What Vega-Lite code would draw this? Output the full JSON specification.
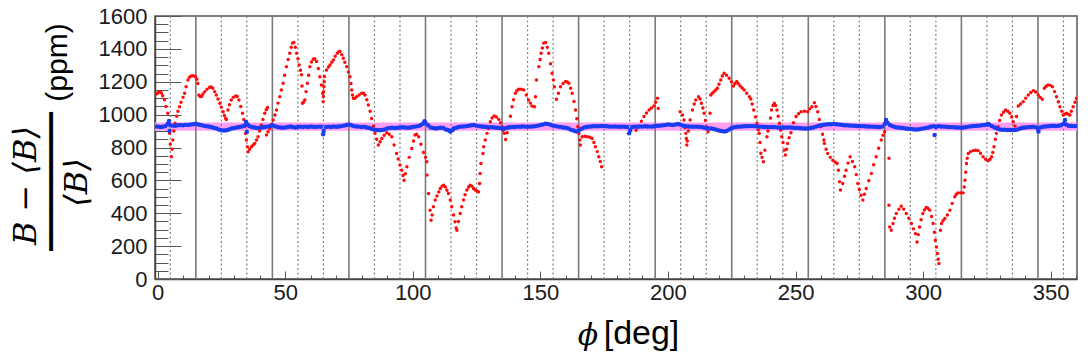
{
"$schema": "https://vega.github.io/schema/vega-lite/v6.json",
"width": 922, "height": 263,
"autosize": {"type": "none"},
"padding": {"left": 155, "top": 16, "right": 11, "bottom": 78},
"background": "white",
"config": {"view": {"stroke": "#555", "strokeWidth": 1.5}, "axis": {"grid": false}},
"datasets": {
"band": [{"lo": 902, "hi": 952}],
"solid": [{"phi":15},{"phi":45},{"phi":75},{"phi":105},{"phi":135},{"phi":165},{"phi":195},{"phi":225},{"phi":255},{"phi":285},{"phi":315},{"phi":345}],
"dotted": [{"phi":5},{"phi":25},{"phi":35},{"phi":55},{"phi":65},{"phi":85},{"phi":95},{"phi":115},{"phi":125},{"phi":145},{"phi":155},{"phi":175},{"phi":185},{"phi":205},{"phi":215},{"phi":235},{"phi":245},{"phi":265},{"phi":275},{"phi":295},{"phi":305},{"phi":325},{"phi":335},{"phi":355}],
"red": [
{"phi":-0.5,"val":1125},{"phi":0,"val":1130},{"phi":0.5,"val":1138},{"phi":1,"val":1140},{"phi":1.5,"val":1132},{"phi":2,"val":1115},{"phi":2.7,"val":1090},{"phi":3.3,"val":1050},{"phi":4,"val":1008},{"phi":4.4,"val":950},{"phi":4.7,"val":886},{"phi":5,"val":820},{"phi":5.4,"val":744},{"phi":5.7,"val":790},{"phi":6,"val":845},{"phi":6.4,"val":900},{"phi":6.9,"val":947},{"phi":7.5,"val":990},{"phi":8,"val":1020},{"phi":8.6,"val":1048},{"phi":9.2,"val":1075},{"phi":10,"val":1105},{"phi":10.6,"val":1130},{"phi":11.2,"val":1170},{"phi":11.9,"val":1211},{"phi":12.5,"val":1228},{"phi":13.2,"val":1235},{"phi":14,"val":1236},{"phi":14.9,"val":1231},{"phi":15.4,"val":1215},{"phi":15.8,"val":1190},{"phi":16.2,"val":1120},{"phi":16.7,"val":1110},{"phi":17.2,"val":1110},{"phi":17.8,"val":1125},{"phi":18.5,"val":1140},{"phi":19.4,"val":1155},{"phi":20.4,"val":1166},{"phi":21,"val":1168},{"phi":21.7,"val":1160},{"phi":22.4,"val":1140},{"phi":23,"val":1120},{"phi":23.7,"val":1095},{"phi":24.4,"val":1069},{"phi":25,"val":1045},{"phi":25.7,"val":1018},{"phi":26.2,"val":995},{"phi":26.7,"val":977},{"phi":27,"val":970},{"phi":27.6,"val":1028},{"phi":28.2,"val":1060},{"phi":28.9,"val":1089},{"phi":29.7,"val":1105},{"phi":30.6,"val":1114},{"phi":31.2,"val":1110},{"phi":31.9,"val":1089},{"phi":32.6,"val":1050},{"phi":33.3,"val":1008},{"phi":33.8,"val":970},{"phi":34.2,"val":927},{"phi":34.5,"val":885},{"phi":34.8,"val":845},{"phi":35.2,"val":805},{"phi":35.5,"val":774},{"phi":36.1,"val":790},{"phi":36.8,"val":805},{"phi":37.5,"val":815},{"phi":38.1,"val":825},{"phi":38.8,"val":845},{"phi":39.4,"val":866},{"phi":40,"val":900},{"phi":40.7,"val":937},{"phi":41.3,"val":970},{"phi":42,"val":1008},{"phi":42.6,"val":1030},{"phi":43.1,"val":1044},
{"phi":42.7,"val":876},{"phi":43.3,"val":896},{"phi":44,"val":916},{"phi":44.7,"val":940},{"phi":45.3,"val":967},{"phi":46,"val":998},{"phi":46.6,"val":1028},{"phi":47.2,"val":1070},{"phi":47.9,"val":1109},{"phi":48.5,"val":1150},{"phi":49.2,"val":1191},{"phi":49.8,"val":1240},{"phi":50.5,"val":1292},{"phi":51.2,"val":1335},{"phi":51.8,"val":1374},{"phi":52.4,"val":1410},{"phi":52.9,"val":1435},{"phi":53.4,"val":1439},{"phi":54,"val":1410},{"phi":54.5,"val":1374},{"phi":55,"val":1340},{"phi":55.5,"val":1302},{"phi":56,"val":1270},{"phi":56.4,"val":1242},{"phi":56.6,"val":1174},{"phi":56.8,"val":1069},{"phi":57.2,"val":1075},
{"phi":57.7,"val":1089},{"phi":58.2,"val":1140},{"phi":58.7,"val":1191},{"phi":59.2,"val":1240},{"phi":59.7,"val":1292},{"phi":60.3,"val":1320},{"phi":61,"val":1337},{"phi":61.6,"val":1340},{"phi":62.3,"val":1323},{"phi":63,"val":1280},{"phi":63.6,"val":1231},{"phi":64.2,"val":1180},{"phi":64.7,"val":1130},{"phi":64.9,"val":1079},{"phi":65,"val":1110},{"phi":65.1,"val":1140},{"phi":65.2,"val":1170},{"phi":65.3,"val":1200},{"phi":65.4,"val":1232},{"phi":66.2,"val":1272},{"phi":67,"val":1290},{"phi":67.6,"val":1302},{"phi":68.3,"val":1318},{"phi":68.9,"val":1333},{"phi":69.6,"val":1355},{"phi":70.4,"val":1374},{"phi":71,"val":1382},{"phi":71.5,"val":1384},{"phi":72.2,"val":1365},{"phi":72.8,"val":1343},{"phi":73.4,"val":1318},{"phi":74.1,"val":1292},{"phi":74.8,"val":1260},{"phi":75.4,"val":1231},{"phi":75.8,"val":1190},{"phi":76.1,"val":1150},{"phi":76.4,"val":1120},{"phi":76.7,"val":1099},{"phi":77.3,"val":1100},{"phi":78,"val":1109},{"phi":79,"val":1120},{"phi":80,"val":1130},{"phi":80.7,"val":1130},{"phi":81.3,"val":1120},{"phi":82,"val":1090},{"phi":82.6,"val":1059},{"phi":83.3,"val":1020},{"phi":83.9,"val":977},{"phi":84.6,"val":930},{"phi":85.2,"val":886},{"phi":85.9,"val":850},{"phi":86.5,"val":815},{"phi":87.2,"val":835},{"phi":87.9,"val":855},{"phi":88.8,"val":875},{"phi":89.8,"val":890},{"phi":90.8,"val":880},{"phi":91.8,"val":866},{"phi":92.7,"val":815},{"phi":93.7,"val":764},{"phi":94.3,"val":730},{"phi":95,"val":693},{"phi":95.7,"val":662},{"phi":96.2,"val":630},{"phi":96.6,"val":601},{"phi":97.1,"val":640},{"phi":97.7,"val":683},{"phi":98.6,"val":740},{"phi":99.6,"val":794},{"phi":100.3,"val":840},{"phi":100.9,"val":876},{"phi":101.5,"val":880},{"phi":102.3,"val":866},{"phi":103.2,"val":820},{"phi":104.2,"val":770},{"phi":105,"val":740},{"phi":105.5,"val":713},{"phi":105.6,"val":632},{"phi":106.2,"val":520},{"phi":106.8,"val":418},{"phi":107.2,"val":357},
{"phi":107.6,"val":390},{"phi":108.1,"val":440},{"phi":108.8,"val":480},{"phi":109.5,"val":505},{"phi":110.2,"val":530},{"phi":110.8,"val":551},{"phi":111.5,"val":565},{"phi":112.1,"val":571},{"phi":112.8,"val":560},{"phi":113.4,"val":540},{"phi":114,"val":520},{"phi":114.7,"val":480},{"phi":115.3,"val":439},{"phi":116,"val":390},{"phi":116.6,"val":348},{"phi":117,"val":310},{"phi":117.3,"val":297},{"phi":117.9,"val":350},{"phi":118.6,"val":398},{"phi":119.2,"val":440},{"phi":119.9,"val":480},{"phi":120.5,"val":512},{"phi":121.2,"val":541},{"phi":121.9,"val":560},{"phi":122.5,"val":571},{"phi":123.2,"val":565},{"phi":123.8,"val":550},{"phi":124.5,"val":541},{"phi":125.2,"val":535},{"phi":125.8,"val":530},{"phi":126.2,"val":581},{"phi":126.4,"val":642},{"phi":126.7,"val":703},{"phi":127.5,"val":764},{"phi":127.8,"val":805},{"phi":128.4,"val":845},{"phi":129.1,"val":886},{"phi":129.7,"val":915},{"phi":130.4,"val":957},{"phi":131.1,"val":980},{"phi":131.9,"val":992},{"phi":132.8,"val":985},{"phi":133.7,"val":971},{"phi":134.4,"val":950},{"phi":135,"val":927},{"phi":135.5,"val":905},{"phi":135.9,"val":886},{"phi":136.4,"val":849},{"phi":137,"val":890},{"phi":137.6,"val":927},{"phi":138.3,"val":990},{"phi":138.9,"val":1048},{"phi":139.5,"val":1090},{"phi":140.2,"val":1130},{"phi":140.8,"val":1145},{"phi":141.5,"val":1154},{"phi":142.5,"val":1155},{"phi":143.5,"val":1150},{"phi":144.5,"val":1120},{"phi":145.4,"val":1089},{"phi":146.1,"val":1070},{"phi":146.7,"val":1053},{"phi":147.7,"val":1048},{"phi":148.1,"val":1109},{"phi":148.5,"val":1211},{"phi":149.4,"val":1292},{"phi":149.9,"val":1335},{"phi":150.3,"val":1374},{"phi":150.8,"val":1405},{"phi":151.3,"val":1435},{"phi":152.1,"val":1439},{"phi":152.7,"val":1410},{"phi":153.3,"val":1374},{"phi":154,"val":1310},{"phi":154.6,"val":1252},{"phi":155.1,"val":1210},{"phi":155.5,"val":1170},{"phi":156.3,"val":1093},{"phi":157.1,"val":1130},{"phi":157.9,"val":1170},{"phi":158.9,"val":1190},{"phi":159.9,"val":1201},{"phi":160.6,"val":1198},{"phi":161.2,"val":1191},{"phi":161.9,"val":1160},{"phi":162.5,"val":1130},{"phi":163.2,"val":1080},{"phi":163.8,"val":1028},{"phi":164.3,"val":975},{"phi":164.7,"val":927},{"phi":165.1,"val":885},{"phi":165.5,"val":845},{"phi":165.7,"val":815},{"phi":166.4,"val":865},{"phi":167.4,"val":868},{"phi":168.4,"val":866},{"phi":169.4,"val":862},{"phi":170.3,"val":855},{"phi":171,"val":830},{"phi":171.6,"val":805},{"phi":172.3,"val":775},{"phi":172.9,"val":744},{"phi":173.5,"val":715},{"phi":174,"val":683},
{"phi":187.5,"val":905},{"phi":188.7,"val":927},{"phi":189.6,"val":960},{"phi":190.6,"val":988},{"phi":191.6,"val":1010},{"phi":192.6,"val":1028},{"phi":193.5,"val":1040},{"phi":194.5,"val":1053},{"phi":195.2,"val":1075},{"phi":195.9,"val":1099},{"phi":196.2,"val":1038},
{"phi":204.8,"val":1018},{"phi":205.7,"val":998},{"phi":206.3,"val":967},{"phi":206.7,"val":920},{"phi":207,"val":886},{"phi":207.2,"val":855},{"phi":207.4,"val":815},{"phi":207.6,"val":840},{"phi":208,"val":900},{"phi":208.7,"val":967},{"phi":209.6,"val":1028},{"phi":210.3,"val":1065},{"phi":210.9,"val":1089},{"phi":212,"val":1109},{"phi":212.6,"val":1095},{"phi":213.1,"val":1069},{"phi":213.7,"val":1040},{"phi":214.2,"val":1008},{"phi":214.7,"val":965},{"phi":215.2,"val":927},{"phi":215.7,"val":896},{"phi":216.5,"val":1008},{"phi":216.8,"val":1120},{"phi":217.4,"val":1130},{"phi":218.1,"val":1140},{"phi":218.7,"val":1150},{"phi":219.4,"val":1160},{"phi":220,"val":1185},{"phi":220.7,"val":1211},{"phi":221.3,"val":1235},{"phi":222,"val":1252},{"phi":223,"val":1240},{"phi":224,"val":1221},{"phi":224.9,"val":1200},{"phi":225.7,"val":1174},{"phi":226.3,"val":1190},{"phi":227,"val":1201},{"phi":227.6,"val":1188},{"phi":228.3,"val":1174},{"phi":229.1,"val":1162},{"phi":229.9,"val":1150},{"phi":230.9,"val":1130},{"phi":231.9,"val":1109},{"phi":232.5,"val":1095},{"phi":233,"val":1065},{"phi":233.6,"val":1028},{"phi":234.3,"val":985},{"phi":234.9,"val":947},{"phi":235.4,"val":906},{"phi":235.8,"val":886},{"phi":236.1,"val":830},{"phi":236.4,"val":765},{"phi":236.9,"val":740},{"phi":237.4,"val":713},{"phi":238,"val":784},{"phi":238.8,"val":866},{"phi":239.2,"val":900},{"phi":239.7,"val":927},{"phi":240.2,"val":980},{"phi":240.6,"val":1028},{"phi":241.2,"val":1055},{"phi":241.7,"val":1069},{"phi":242.2,"val":1055},{"phi":242.7,"val":1028},{"phi":243.2,"val":990},{"phi":243.7,"val":947},{"phi":244.2,"val":905},{"phi":244.6,"val":866},{"phi":245.1,"val":830},{"phi":245.6,"val":784},{"phi":246,"val":754},{"phi":246.5,"val":790},{"phi":246.9,"val":825},{"phi":247.5,"val":860},{"phi":248.2,"val":890},{"phi":249.2,"val":950},{"phi":250.2,"val":988},{"phi":251.2,"val":1005},{"phi":252.2,"val":1018},{"phi":253.5,"val":1020},{"phi":254.8,"val":1018},{"phi":255.6,"val":1035},{"phi":256.4,"val":1048},{"phi":257.4,"val":1073},{"phi":258,"val":1050},{"phi":258.7,"val":1018},{"phi":259.3,"val":970},{"phi":260,"val":927},{"phi":260.6,"val":880},{"phi":261.1,"val":845},{"phi":261.3,"val":825},{"phi":262,"val":790},{"phi":262.6,"val":764},{"phi":263.6,"val":740},{"phi":264.6,"val":723},{"phi":265.5,"val":712},{"phi":266.3,"val":703},{"phi":266.8,"val":662},{"phi":267.2,"val":591},{"phi":267.6,"val":541},{"phi":268.5,"val":581},{"phi":269.2,"val":625},{"phi":269.8,"val":662},{"phi":270.6,"val":705},{"phi":271.4,"val":744},{"phi":272.3,"val":715},{"phi":273.2,"val":683},{"phi":273.8,"val":635},{"phi":274.4,"val":581},{"phi":275,"val":545},{"phi":275.7,"val":510},{"phi":276.4,"val":480},{"phi":277,"val":515},{"phi":277.7,"val":551},{"phi":278.7,"val":598},{"phi":279.7,"val":642},{"phi":280.6,"val":695},{"phi":281.6,"val":744},{"phi":282.6,"val":795},{"phi":283.6,"val":845},{"phi":284.3,"val":875},{"phi":284.9,"val":896},{"phi":285.5,"val":957},{"phi":286.6,"val":734},{"phi":286.6,"val":449},{"phi":286.9,"val":317},{"phi":287.5,"val":297},{"phi":288.2,"val":337},{"phi":288.8,"val":370},{"phi":289.5,"val":398},{"phi":290.5,"val":425},{"phi":291.4,"val":443},{"phi":292.4,"val":425},{"phi":293.4,"val":398},{"phi":294.4,"val":370},{"phi":295.4,"val":337},{"phi":296.2,"val":305},{"phi":297,"val":276},{"phi":297.6,"val":225},{"phi":298.1,"val":270},{"phi":298.6,"val":317},{"phi":299.2,"val":360},{"phi":299.9,"val":398},{"phi":300.5,"val":420},{"phi":301.2,"val":435},{"phi":301.9,"val":430},{"phi":302.6,"val":419},{"phi":303.3,"val":380},{"phi":303.9,"val":337},{"phi":304.4,"val":285},{"phi":304.8,"val":236},{"phi":305.2,"val":195},{"phi":305.6,"val":155},{"phi":305.9,"val":120},{"phi":306.2,"val":94},{"phi":306.8,"val":297},{"phi":307.2,"val":337},{"phi":307.8,"val":355},{"phi":308.5,"val":368},{"phi":309.5,"val":390},{"phi":310.5,"val":419},{"phi":311.4,"val":460},{"phi":312.4,"val":500},{"phi":313,"val":515},{"phi":313.7,"val":524},{"phi":314.7,"val":524},{"phi":315.7,"val":524},{"phi":316.1,"val":560},{"phi":316.4,"val":601},{"phi":316.7,"val":650},{"phi":317,"val":703},{"phi":317.3,"val":735},{"phi":317.7,"val":764},{"phi":318.6,"val":775},{"phi":319.6,"val":781},{"phi":320.6,"val":783},{"phi":321.6,"val":781},{"phi":322.5,"val":765},{"phi":323.5,"val":744},{"phi":324.5,"val":728},{"phi":325.5,"val":719},{"phi":326.2,"val":728},{"phi":326.8,"val":744},{"phi":327.3,"val":770},{"phi":327.8,"val":805},{"phi":328.3,"val":850},{"phi":328.7,"val":886},{"phi":329.4,"val":927},{"phi":330,"val":965},{"phi":330.7,"val":998},{"phi":331.5,"val":1015},{"phi":332.3,"val":1028},{"phi":333.2,"val":1020},{"phi":334,"val":1008},{"phi":334.7,"val":985},{"phi":335.3,"val":957},{"phi":336,"val":931},{"phi":336.6,"val":988},{"phi":337.3,"val":1053},{"phi":338.2,"val":1065},{"phi":339.2,"val":1079},{"phi":340.2,"val":1100},{"phi":341.2,"val":1120},{"phi":342.2,"val":1135},{"phi":343.2,"val":1146},{"phi":344.1,"val":1138},{"phi":345.1,"val":1120},{"phi":345.9,"val":1105},{"phi":346.7,"val":1093},{"phi":347.5,"val":1160},{"phi":348.2,"val":1172},{"phi":349,"val":1181},{"phi":349.8,"val":1178},{"phi":350.7,"val":1170},{"phi":351.5,"val":1140},{"phi":352.3,"val":1109},{"phi":353,"val":1078},{"phi":353.6,"val":1048},{"phi":354.3,"val":1020},{"phi":354.9,"val":998},{"phi":355.5,"val":1003},{"phi":356.2,"val":1008},{"phi":356.8,"val":1003},{"phi":357.5,"val":998},{"phi":358.1,"val":1020},{"phi":358.8,"val":1048},{"phi":359.5,"val":1075},{"phi":360.1,"val":1099},{"phi":361,"val":1120}
],
"blue": [
{"phi":-1,"val":927},{"phi":0,"val":928},{"phi":1,"val":925},{"phi":2,"val":926},{"phi":3,"val":930},{"phi":4,"val":945},{"phi":4.5,"val":962},{"phi":4.7,"val":900},{"phi":5,"val":935},{"phi":6,"val":933},{"phi":7,"val":932},{"phi":8,"val":935},{"phi":9,"val":937},{"phi":10,"val":936},{"phi":11,"val":938},{"phi":12,"val":937},{"phi":13,"val":940},{"phi":14,"val":942},{"phi":15,"val":945},{"phi":16,"val":940},{"phi":17,"val":937},{"phi":18,"val":933},{"phi":19,"val":930},{"phi":20,"val":928},{"phi":21,"val":925},{"phi":22,"val":920},{"phi":23,"val":915},{"phi":24,"val":910},{"phi":25,"val":905},{"phi":26,"val":903},{"phi":27,"val":905},{"phi":28,"val":910},{"phi":29,"val":915},{"phi":30,"val":918},{"phi":31,"val":922},{"phi":32,"val":925},{"phi":33,"val":928},{"phi":34,"val":932},{"phi":34.7,"val":955},{"phi":35,"val":895},{"phi":35.3,"val":940},{"phi":36,"val":930},{"phi":37,"val":925},{"phi":38,"val":922},{"phi":39,"val":918},{"phi":40,"val":920},{"phi":41,"val":922},{"phi":42,"val":925},{"phi":43,"val":927},{"phi":44,"val":930},{"phi":45,"val":935},{"phi":46,"val":930},{"phi":47,"val":925},{"phi":48,"val":922},{"phi":49,"val":920},{"phi":50,"val":922},{"phi":51,"val":925},{"phi":52,"val":928},{"phi":53,"val":925},{"phi":54,"val":922},{"phi":55,"val":925},{"phi":56,"val":927},{"phi":57,"val":925},{"phi":58,"val":927},{"phi":59,"val":925},{"phi":60,"val":928},{"phi":61,"val":926},{"phi":62,"val":925},{"phi":63,"val":927},{"phi":64,"val":926},{"phi":64.9,"val":880},{"phi":65.1,"val":900},{"phi":66,"val":925},{"phi":67,"val":927},{"phi":68,"val":925},{"phi":69,"val":928},{"phi":70,"val":926},{"phi":71,"val":928},{"phi":72,"val":930},{"phi":73,"val":933},{"phi":74,"val":937},{"phi":75,"val":940},{"phi":76,"val":935},{"phi":77,"val":930},{"phi":78,"val":928},{"phi":79,"val":927},{"phi":80,"val":925},{"phi":81,"val":926},{"phi":82,"val":922},{"phi":83,"val":918},{"phi":84,"val":912},{"phi":85,"val":908},{"phi":86,"val":906},{"phi":87,"val":905},{"phi":88,"val":907},{"phi":89,"val":910},{"phi":90,"val":915},{"phi":91,"val":918},{"phi":92,"val":920},{"phi":93,"val":918},{"phi":94,"val":920},{"phi":95,"val":922},{"phi":96,"val":923},{"phi":97,"val":921},{"phi":98,"val":920},{"phi":99,"val":922},{"phi":100,"val":925},{"phi":101,"val":927},{"phi":102,"val":930},{"phi":103,"val":935},{"phi":104,"val":945},{"phi":104.6,"val":960},{"phi":105,"val":950},{"phi":106,"val":935},{"phi":107,"val":922},{"phi":108,"val":918},{"phi":109,"val":916},{"phi":110,"val":918},{"phi":111,"val":920},{"phi":112,"val":918},{"phi":113,"val":910},{"phi":114,"val":905},{"phi":114.7,"val":898},{"phi":115.5,"val":905},{"phi":116,"val":915},{"phi":117,"val":920},{"phi":118,"val":925},{"phi":119,"val":927},{"phi":120,"val":928},{"phi":121,"val":930},{"phi":122,"val":932},{"phi":123,"val":935},{"phi":124,"val":937},{"phi":125,"val":933},{"phi":126,"val":930},{"phi":127,"val":928},{"phi":128,"val":926},{"phi":129,"val":925},{"phi":130,"val":924},{"phi":131,"val":923},{"phi":132,"val":922},{"phi":133,"val":920},{"phi":134,"val":918},{"phi":135,"val":916},{"phi":136,"val":916},{"phi":137,"val":920},{"phi":138,"val":923},{"phi":139,"val":925},{"phi":140,"val":925},{"phi":141,"val":927},{"phi":142,"val":926},{"phi":143,"val":928},{"phi":144,"val":927},{"phi":145,"val":926},{"phi":146,"val":927},{"phi":147,"val":928},{"phi":148,"val":930},{"phi":149,"val":933},{"phi":150,"val":937},{"phi":151,"val":940},{"phi":152,"val":945},{"phi":153,"val":943},{"phi":154,"val":938},{"phi":155,"val":933},{"phi":156,"val":930},{"phi":157,"val":927},{"phi":158,"val":925},{"phi":159,"val":922},{"phi":160,"val":920},{"phi":161,"val":915},{"phi":162,"val":908},{"phi":163,"val":903},{"phi":164,"val":898},{"phi":165,"val":903},{"phi":166,"val":912},{"phi":167,"val":920},{"phi":168,"val":925},{"phi":169,"val":927},{"phi":170,"val":928},{"phi":171,"val":930},{"phi":172,"val":929},{"phi":173,"val":930},{"phi":174,"val":931},{"phi":175,"val":930},{"phi":176,"val":929},{"phi":177,"val":928},{"phi":178,"val":927},{"phi":179,"val":928},{"phi":180,"val":927},{"phi":181,"val":926},{"phi":182,"val":927},{"phi":183,"val":926},{"phi":184,"val":925},{"phi":184.8,"val":886},{"phi":185.2,"val":905},{"phi":186,"val":925},{"phi":187,"val":927},{"phi":188,"val":926},{"phi":189,"val":928},{"phi":190,"val":927},{"phi":191,"val":929},{"phi":192,"val":928},{"phi":193,"val":927},{"phi":194,"val":928},{"phi":195,"val":930},{"phi":196,"val":932},{"phi":197,"val":933},{"phi":198,"val":935},{"phi":199,"val":937},{"phi":200,"val":940},{"phi":201,"val":938},{"phi":202,"val":937},{"phi":203,"val":940},{"phi":204,"val":943},{"phi":205,"val":938},{"phi":206,"val":933},{"phi":207,"val":930},{"phi":208,"val":928},{"phi":209,"val":927},{"phi":210,"val":926},{"phi":211,"val":927},{"phi":212,"val":926},{"phi":213,"val":925},{"phi":214,"val":922},{"phi":215,"val":917},{"phi":216,"val":915},{"phi":217,"val":916},{"phi":218,"val":912},{"phi":219,"val":908},{"phi":220,"val":903},{"phi":221,"val":900},{"phi":222,"val":897},{"phi":223,"val":900},{"phi":224,"val":910},{"phi":225,"val":918},{"phi":226,"val":923},{"phi":227,"val":926},{"phi":228,"val":927},{"phi":229,"val":928},{"phi":230,"val":929},{"phi":231,"val":930},{"phi":232,"val":930},{"phi":233,"val":931},{"phi":234,"val":930},{"phi":235,"val":928},{"phi":236,"val":927},{"phi":237,"val":926},{"phi":238,"val":925},{"phi":239,"val":925},{"phi":240,"val":924},{"phi":241,"val":925},{"phi":242,"val":924},{"phi":243,"val":922},{"phi":244,"val":921},{"phi":245,"val":920},{"phi":246,"val":921},{"phi":247,"val":922},{"phi":248,"val":921},{"phi":249,"val":920},{"phi":250,"val":919},{"phi":251,"val":918},{"phi":252,"val":917},{"phi":253,"val":916},{"phi":254,"val":916},{"phi":255,"val":916},{"phi":256,"val":918},{"phi":257,"val":922},{"phi":258,"val":927},{"phi":259,"val":932},{"phi":260,"val":936},{"phi":261,"val":938},{"phi":262,"val":940},{"phi":263,"val":941},{"phi":264,"val":942},{"phi":265,"val":943},{"phi":266,"val":942},{"phi":267,"val":940},{"phi":268,"val":938},{"phi":269,"val":936},{"phi":270,"val":935},{"phi":271,"val":934},{"phi":272,"val":933},{"phi":273,"val":932},{"phi":274,"val":931},{"phi":275,"val":931},{"phi":276,"val":930},{"phi":277,"val":929},{"phi":278,"val":928},{"phi":279,"val":928},{"phi":280,"val":927},{"phi":281,"val":926},{"phi":282,"val":925},{"phi":283,"val":925},{"phi":284,"val":927},{"phi":285,"val":945},{"phi":285.5,"val":967},{"phi":286,"val":950},{"phi":287,"val":937},{"phi":288,"val":930},{"phi":289,"val":925},{"phi":290,"val":922},{"phi":291,"val":920},{"phi":292,"val":918},{"phi":293,"val":916},{"phi":294,"val":914},{"phi":295,"val":912},{"phi":296,"val":911},{"phi":297,"val":910},{"phi":298,"val":910},{"phi":299,"val":912},{"phi":300,"val":915},{"phi":301,"val":918},{"phi":302,"val":922},{"phi":303,"val":926},{"phi":304,"val":930},{"phi":304.5,"val":876},{"phi":305,"val":925},{"phi":306,"val":930},{"phi":307,"val":928},{"phi":308,"val":927},{"phi":309,"val":926},{"phi":310,"val":925},{"phi":311,"val":924},{"phi":312,"val":923},{"phi":313,"val":922},{"phi":314,"val":921},{"phi":315,"val":920},{"phi":316,"val":922},{"phi":317,"val":925},{"phi":318,"val":927},{"phi":319,"val":929},{"phi":320,"val":931},{"phi":321,"val":932},{"phi":322,"val":933},{"phi":323,"val":935},{"phi":324,"val":937},{"phi":325,"val":940},{"phi":325.5,"val":943},{"phi":326,"val":938},{"phi":327,"val":930},{"phi":328,"val":922},{"phi":329,"val":915},{"phi":330,"val":910},{"phi":331,"val":908},{"phi":332,"val":908},{"phi":333,"val":907},{"phi":334,"val":906},{"phi":335,"val":906},{"phi":336,"val":906},{"phi":337,"val":910},{"phi":338,"val":915},{"phi":339,"val":920},{"phi":340,"val":922},{"phi":341,"val":924},{"phi":342,"val":925},{"phi":343,"val":926},{"phi":344,"val":924},{"phi":345,"val":915},{"phi":345.2,"val":898},{"phi":346,"val":922},{"phi":347,"val":926},{"phi":348,"val":928},{"phi":349,"val":929},{"phi":350,"val":931},{"phi":351,"val":932},{"phi":352,"val":931},{"phi":353,"val":932},{"phi":354,"val":935},{"phi":355,"val":945},{"phi":355.6,"val":967},{"phi":356,"val":940},{"phi":357,"val":932},{"phi":358,"val":931},{"phi":359,"val":930},{"phi":360,"val":931}
]
},
"resolve": {"axis": {"x": "independent", "y": "independent"}},
"layer": [
{
"data": {"name": "band"},
"mark": {"type": "rect", "color": "#ff9ff3", "clip": true},
"encoding": {
"x": {"datum": -1, "type": "quantitative", "scale": {"domain": [-1, 360.3], "nice": false, "zero": false}, "axis": null},
"x2": {"datum": 360.3},
"y": {"field": "lo", "type": "quantitative", "scale": {"domain": [0, 1600], "nice": false, "zero": false},
"axis": {"orient": "left", "ticks": false, "labels": false, "domain": false, "grid": false, "title": "━━━━━━━━━━", "titleFont": "DejaVu Sans Mono", "titleFontSize": 23, "titleFontWeight": "normal", "titleColor": "#000", "titleAngle": -90, "titleAlign": "center", "titleBaseline": "middle", "titleX": -103.5, "titleY": 165, "titleLimit": 1000}},
"y2": {"field": "hi"}
}
},
{
"data": {"name": "dotted"},
"mark": {"type": "rule", "color": "#808080", "strokeDash": [2, 2.5], "strokeWidth": 1.2},
"encoding": {
"x": {"field": "phi", "type": "quantitative", "scale": {"domain": [-1, 360.3], "nice": false, "zero": false}, "axis": null}
}
},
{
"data": {"name": "solid"},
"mark": {"type": "rule", "color": "#7a7a7a", "strokeWidth": 1.6},
"encoding": {
"x": {"field": "phi", "type": "quantitative", "scale": {"domain": [-1, 360.3], "nice": false, "zero": false}, "axis": null},
"y": {"datum": 0, "type": "quantitative", "scale": {"domain": [0, 1600], "nice": false, "zero": false},
"axis": {"orient": "left", "ticks": false, "labels": false, "domain": false, "grid": false, "title": "⟨B⟩", "titleFont": "DejaVu Serif", "titleFontStyle": "italic", "titleFontWeight": "normal", "titleFontSize": 32, "titleColor": "#000", "titleAngle": -90, "titleAlign": "center", "titleBaseline": "middle", "titleX": -79, "titleY": 166}},
"y2": {"datum": 1600}
}
},
{
"data": {"name": "red"},
"mark": {"type": "point", "filled": true, "shape": "circle", "size": 12, "color": "#ff0a0a", "opacity": 1, "clip": true},
"encoding": {
"x": {"field": "phi", "type": "quantitative", "scale": {"domain": [-1, 360.3], "nice": false, "zero": false},
"axis": {"orient": "bottom", "values": [10,20,30,40,60,70,80,90,110,120,130,140,160,170,180,190,210,220,230,240,260,270,280,290,310,320,330,340,360], "tickSize": -4, "tickColor": "#555", "tickWidth": 1, "labels": false, "domain": false, "grid": false, "title": "[deg]", "titleFont": "Liberation Sans", "titleFontSize": 34, "titleFontWeight": "normal", "titleColor": "#000", "titleAlign": "center", "titleBaseline": "alphabetic", "titleX": 486, "titleY": 64}},
"y": {"field": "val", "type": "quantitative", "scale": {"domain": [0, 1600], "nice": false, "zero": false},
"axis": {"orient": "left", "values": [50,100,150,250,300,350,450,500,550,650,700,750,850,900,950,1050,1100,1150,1250,1300,1350,1450,1500,1550], "tickSize": -13, "tickColor": "#555", "tickWidth": 1, "labels": false, "domain": false, "grid": false, "title": "(ppm)", "titleFont": "Liberation Sans", "titleFontSize": 30, "titleFontWeight": "normal", "titleColor": "#000", "titleAngle": -90, "titleAlign": "center", "titleBaseline": "middle", "titleX": -98, "titleY": 46, "titleLimit": 1000, "encode": {"title": {"update": {"fontSize": {"value": 30}}}}}}
}
},
{
"data": {"name": "blue"},
"mark": {"type": "point", "filled": true, "shape": "circle", "size": 20, "color": "#1a3cf2", "opacity": 1, "clip": true},
"encoding": {
"x": {"field": "phi", "type": "quantitative", "scale": {"domain": [-1, 360.3], "nice": false, "zero": false},
"axis": {"orient": "bottom", "values": [0,50,100,150,200,250,300,350], "tickSize": -8, "tickColor": "#555", "tickWidth": 1, "domain": true, "domainColor": "#444", "domainWidth": 1.5, "format": "d", "labelFont": "Liberation Sans", "labelFontSize": 22, "labelColor": "#1a1a1a", "labelPadding": 11, "labelFlush": false, "labelOverlap": false, "grid": false, "title": "ϕ", "titleFont": "DejaVu Serif", "titleFontStyle": "italic", "titleFontWeight": "normal", "titleFontSize": 30, "titleColor": "#000", "titleAlign": "center", "titleBaseline": "alphabetic", "titleX": 432.5, "titleY": 65}},
"y": {"field": "val", "type": "quantitative", "scale": {"domain": [0, 1600], "nice": false, "zero": false},
"axis": {"orient": "left", "values": [0,200,400,600,800,1000,1200,1400,1600], "tickSize": -26, "tickColor": "#555", "tickWidth": 1, "domain": true, "domainColor": "#444", "domainWidth": 1.5, "format": "d", "labelFont": "Liberation Sans", "labelFontSize": 22, "labelColor": "#1a1a1a", "labelPadding": 34, "labelFlush": false, "labelOverlap": false, "grid": false, "title": "B − ⟨B⟩", "titleFont": "DejaVu Serif", "titleFontStyle": "italic", "titleFontWeight": "normal", "titleFontSize": 32, "titleColor": "#000", "titleAlign": "center", "titleBaseline": "middle", "titleAngle": -90, "titleX": -130, "titleY": 169}}
}
}
]
}
